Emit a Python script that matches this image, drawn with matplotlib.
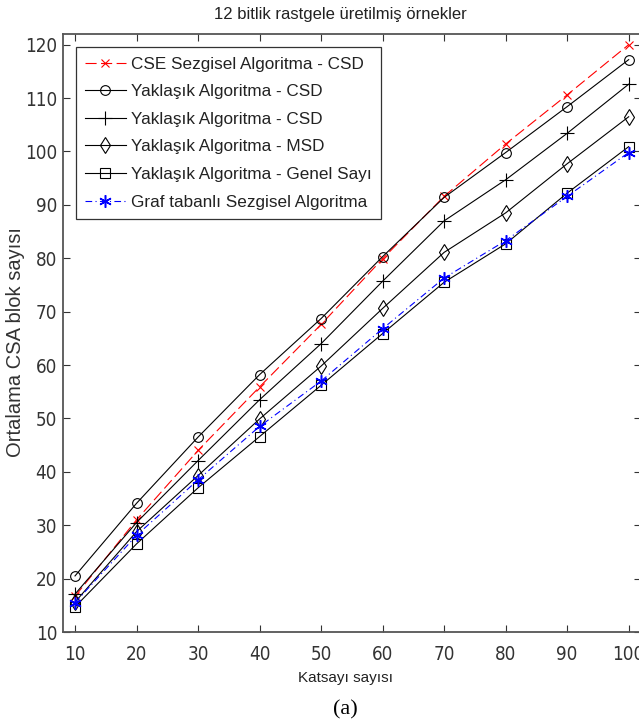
import matplotlib
matplotlib.use("Agg")
import matplotlib.pyplot as plt
from matplotlib import font_manager

# ---- data ----
katsayi = [10, 20, 30, 40, 50, 60, 70, 80, 90, 100]
cse_csd = [16.7, 31.0, 44.0, 55.9, 67.6, 79.9, 91.6, 101.4, 110.6, 120.0]
yak_csd_o = [20.5, 34.1, 46.5, 58.2, 68.7, 80.3, 91.4, 99.8, 108.4, 117.2]
yak_csd_p = [17.1, 30.5, 42.1, 53.5, 64.0, 75.7, 87.0, 94.7, 103.4, 112.6]
yak_msd = [15.6, 28.8, 39.3, 49.9, 59.8, 70.6, 81.1, 88.5, 97.7, 106.5]
yak_genel = [14.7, 26.5, 37.0, 46.6, 56.2, 65.9, 75.5, 82.7, 92.2, 100.9]
graf = [15.5, 28.1, 38.5, 48.5, 57.0, 66.8, 76.3, 83.3, 91.6, 99.8]
labels = ["CSE Sezgisel Algoritma - CSD",
          "Yaklaşık Algoritma - CSD",
          "Yaklaşık Algoritma - CSD",
          "Yaklaşık Algoritma - MSD",
          "Yaklaşık Algoritma - Genel Sayı",
          "Graf tabanlı Sezgisel Algoritma"]
xticks = [10, 20, 30, 40, 50, 60, 70, 80, 90, 100]
yticks = [10, 20, 30, 40, 50, 60, 70, 80, 90, 100, 110, 120]

plt.rcParams['font.family'] = ['Liberation Sans', 'DejaVu Sans']

# look for a narrow / condensed sans font for the tick labels
narrow_path = None
for f in font_manager.fontManager.ttflist:
    fn = f.fname.lower()
    if ('narrow' in fn or 'condensed' in fn) and 'sans' in fn and 'bold' not in fn \
            and 'italic' not in fn and 'oblique' not in fn and 'mono' not in fn:
        if narrow_path is None or 'liberation' in fn:
            narrow_path = f.fname

W, H = 639, 726
fig = plt.figure(figsize=(W / 100, H / 100), dpi=100)
L, R, T, B = 62.7, 641.0, 34.0, 632.0
ax = fig.add_axes([L / W, 1 - B / H, (R - L) / W, (B - T) / H])

lw = 0.8
ax.plot(katsayi, cse_csd, color='red', ls=(0, (10, 4)), lw=lw, marker='x', ms=6, mew=0.8, label=labels[0])
ax.plot(katsayi, yak_csd_o, color='black', ls='-', lw=lw, marker='o', ms=7, mfc='none', mew=0.8, label=labels[1])
ax.plot(katsayi, yak_csd_p, color='black', ls='-', lw=lw, marker='+', ms=10, mew=0.8, label=labels[2])
ax.plot(katsayi, yak_msd, color='black', ls='-', lw=lw, marker='d', ms=8, mfc='none', mew=0.8, label=labels[3])
ax.plot(katsayi, yak_genel, color='black', ls='-', lw=lw, marker='s', ms=7, mfc='none', mew=0.8, label=labels[4])
ax.plot(katsayi, graf, color='blue', ls=(0, (6, 3, 1, 3)), lw=lw, marker=(6, 2, 0), ms=9, mew=1.1, label=labels[5])

ax.set_xlim(8, 102)
ax.set_ylim(10, 122)
ax.set_xticks(xticks)
ax.set_yticks(yticks)
ax.tick_params(direction='in', top=True, right=True, length=5, width=0.8,
               colors='#333333')
ax.tick_params(axis='x', pad=9)
ax.tick_params(axis='y', pad=4)
if narrow_path:
    tfp = font_manager.FontProperties(fname=narrow_path, size=13.5)
else:
    tfp = font_manager.FontProperties(family=['Liberation Sans', 'DejaVu Sans'], size=12.5)
for lbl in ax.get_xticklabels() + ax.get_yticklabels():
    lbl.set_fontproperties(tfp)
for s in ax.spines.values():
    s.set_color('#555555')
    s.set_linewidth(1.3)

leg = ax.legend(loc='upper left', bbox_to_anchor=(0.023, 0.978), borderaxespad=0,
                fontsize=12.3, frameon=True, fancybox=False, framealpha=1,
                edgecolor='#333333', handlelength=2.35, handletextpad=0.3,
                labelspacing=0.74, borderpad=0.55)
leg.get_frame().set_linewidth(0.9)
for t in leg.get_texts():
    t.set_color('#222222')

fig.text(340 / W, 1 - 14 / H, "12 bitlik rastgele üretilmiş örnekler", ha='center', va='center',
         fontsize=12, color='#222222')
fig.text(346 / W, 1 - 678 / H, "Katsayı sayısı", ha='center', va='center', fontsize=11, color='#222222')
fig.text(16 / W, 1 - 342 / H, "Ortalama CSA blok sayısı", ha='center', va='center', rotation=90,
         fontsize=14.5, color='#333333')
fig.text(345 / W, 1 - 710 / H, "(a)", ha='center', va='center', fontsize=16,
         family=['Liberation Serif', 'DejaVu Serif'], color='black')

fig.savefig("out.png", dpi=100)
